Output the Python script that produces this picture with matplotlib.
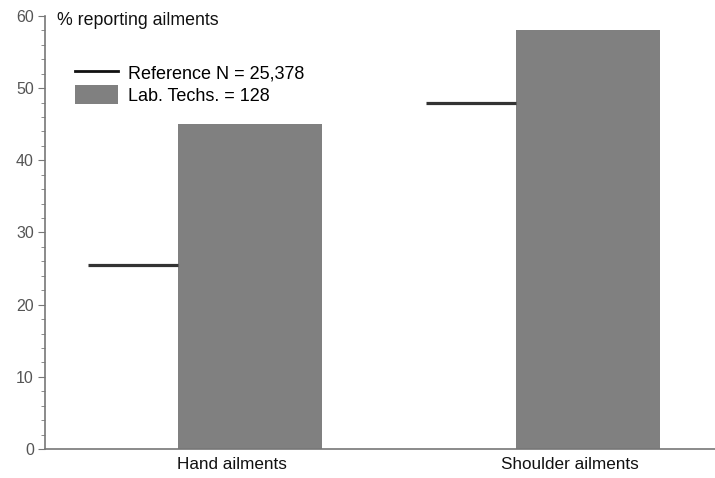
import matplotlib
matplotlib.use("Agg")
import matplotlib.pyplot as plt
from matplotlib.lines import Line2D
from matplotlib.patches import Patch
import numpy as np

categories = ["Hand ailments", "Shoulder ailments"]
lab_techs = [45, 58]
reference = [25.5, 48]
y_ticks = [0, 10, 20, 30, 40, 50, 60]

plt.rcParams['font.family'] = ['Liberation Sans', 'DejaVu Sans']

fig = plt.figure(figsize=(7.15, 4.78), dpi=100)
ax = fig.add_axes([0.063, 0.0607, 0.937, 0.9058])

x = np.arange(len(categories))
bw = 0.426
ll = 0.266
ax.bar(x, lab_techs, width=bw, align='edge', color='#808080', zorder=2)
for xi, r in zip(x, reference):
    ax.plot([xi - ll, xi], [r, r], color='#333333', lw=2.3, solid_capstyle='butt', zorder=3)

ax.set_xlim(-0.393, 1.589)
ax.set_ylim(0, 60)
ax.set_yticks(y_ticks)
ax.set_yticks(np.arange(0, 61, 2), minor=True)
ax.set_xticks(x + 0.16)
ax.set_xticklabels(categories, fontsize=12.3, color='#111111')
ax.tick_params(axis='x', length=0, pad=6)
ax.tick_params(axis='y', which='major', length=5, color='#777777', labelcolor='#555555', labelsize=11.5, pad=3)
ax.tick_params(axis='y', which='minor', length=3, color='#777777')
for s in ['top', 'right']:
    ax.spines[s].set_visible(False)
for s in ['left', 'bottom']:
    ax.spines[s].set_color('#777777')
    ax.spines[s].set_linewidth(1.2)

ax.text(0.018, 0.99, "% reporting ailments", transform=ax.transAxes, fontsize=12.8,
        va='center', ha='left', color='#111111')

handles = [Line2D([0], [0], color='#111111', lw=2),
           Patch(facecolor='#808080', edgecolor='none')]
ax.legend(handles, ["Reference N = 25,378", "Lab. Techs. = 128"], loc='upper left',
          bbox_to_anchor=(0.0335, 0.909), frameon=False, fontsize=13,
          handlelength=2.4, handleheight=1.3, handletextpad=0.55, labelspacing=0.12,
          borderaxespad=0)

fig.savefig("out.png", dpi=100)
